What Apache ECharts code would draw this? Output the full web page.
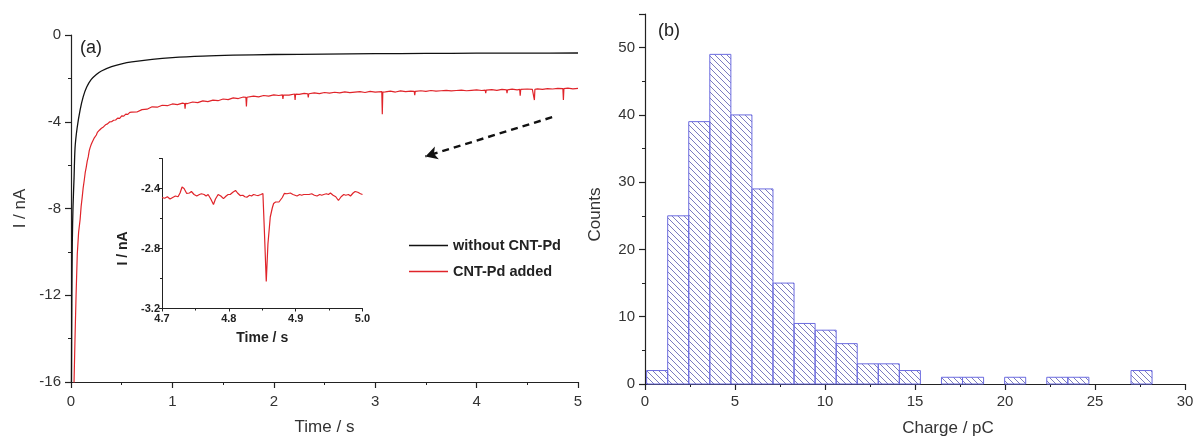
<!DOCTYPE html>
<html>
<head>
<meta charset="utf-8">
<script src="https://cdn.jsdelivr.net/npm/echarts@6/dist/echarts.min.js"></script>
<style>
  html, body { margin: 0; padding: 0; background: #fff; }
  #chart { width: 1197px; height: 436px; }
</style>
</head>
<body>
<div id="chart"></div>
<script>
// (a) chronoamperometry traces: [time (s), current (nA)]
var blackTrace = [
  [0.004,-16.6],[0.008,-12.4],[0.013,-9.5],[0.02,-7.9],[0.03,-6.6],[0.04,-5.2],[0.06,-4.3],
  [0.09,-3.45],[0.12,-2.85],[0.155,-2.4],[0.2,-2.05],[0.25,-1.82],[0.3,-1.66],[0.4,-1.46],
  [0.5,-1.33],[0.6,-1.24],[0.8,-1.12],[1.0,-1.04],[1.3,-0.97],[1.6,-0.93],[2.0,-0.9],
  [2.5,-0.88],[3.0,-0.86],[3.5,-0.85],[4.0,-0.84],[4.5,-0.84],[5.0,-0.83]
];

var redTrace = [
  [0.025,-17.2],[0.03,-16.0],[0.04,-13.9],[0.05,-12.0],[0.062,-10.1],[0.075,-9.1],[0.09,-8.5],
  [0.1,-7.9],[0.11,-7.5],[0.12,-7.05],[0.13,-6.72],[0.14,-6.35],[0.15,-6.1],[0.16,-5.82],
  [0.17,-5.62],[0.18,-5.33],[0.19,-5.17],[0.2,-5.04],[0.21,-4.93],[0.22,-4.84],[0.23,-4.74],
  [0.24,-4.65],[0.25,-4.61],[0.26,-4.49],[0.27,-4.5],[0.28,-4.39],[0.29,-4.37],[0.3,-4.3],
  [0.32,-4.24],[0.34,-4.14],[0.36,-4.1],[0.38,-4.01],[0.4,-4.0],[0.42,-3.93],[0.44,-3.92],
  [0.46,-3.83],[0.48,-3.84],[0.5,-3.73],[0.52,-3.74],[0.54,-3.65],[0.56,-3.66],[0.58,-3.57],
  [0.6,-3.56],[0.65,-3.55],[0.7,-3.44],[0.75,-3.42],[0.8,-3.31],[0.85,-3.33],[0.9,-3.24],
  [0.95,-3.26],[1.0,-3.18],[1.05,-3.21],[1.1,-3.14],[1.12,-3.16],[1.125,-3.4],[1.13,-3.15],
  [1.15,-3.16],[1.2,-3.09],[1.25,-3.12],[1.3,-3.04],[1.35,-3.07],[1.4,-3.0],[1.45,-3.03],
  [1.5,-2.95],[1.55,-2.98],[1.6,-2.9],[1.65,-2.93],[1.7,-2.86],[1.725,-2.88],[1.73,-3.3],
  [1.735,-2.87],[1.75,-2.89],[1.8,-2.82],[1.85,-2.85],[1.9,-2.79],[1.95,-2.82],[2.0,-2.76],
  [2.05,-2.79],[2.085,-2.76],[2.09,-2.95],[2.095,-2.77],[2.1,-2.74],[2.15,-2.77],[2.205,-2.72],
  [2.21,-3.0],[2.215,-2.73],[2.25,-2.74],[2.3,-2.69],[2.335,-2.71],[2.34,-2.88],[2.345,-2.71],
  [2.4,-2.67],[2.45,-2.7],[2.5,-2.65],[2.55,-2.68],[2.6,-2.64],[2.65,-2.67],[2.7,-2.62],
  [2.75,-2.66],[2.8,-2.63],[2.85,-2.61],[2.9,-2.65],[2.95,-2.6],[3.0,-2.63],[3.065,-2.61],
  [3.07,-3.65],[3.075,-2.63],[3.1,-2.62],[3.15,-2.59],[3.2,-2.63],[3.25,-2.58],[3.3,-2.61],
  [3.35,-2.59],[3.385,-2.6],[3.39,-2.78],[3.395,-2.6],[3.45,-2.57],[3.5,-2.6],[3.55,-2.56],
  [3.6,-2.59],[3.65,-2.57],[3.7,-2.55],[3.75,-2.58],[3.8,-2.56],[3.85,-2.54],[3.9,-2.57],
  [3.95,-2.55],[4.0,-2.53],[4.05,-2.56],[4.085,-2.54],[4.09,-2.68],[4.095,-2.54],[4.15,-2.52],
  [4.2,-2.55],[4.25,-2.51],[4.295,-2.53],[4.3,-2.68],[4.305,-2.53],[4.35,-2.5],[4.4,-2.53],
  [4.425,-2.51],[4.43,-2.8],[4.435,-2.51],[4.5,-2.49],[4.55,-2.51],[4.565,-2.5],[4.57,-3.0],
  [4.575,-2.5],[4.6,-2.48],[4.65,-2.51],[4.7,-2.47],[4.75,-2.49],[4.8,-2.46],[4.851,-2.47],
  [4.856,-3.0],[4.861,-2.47],[4.9,-2.45],[4.95,-2.48],[5.0,-2.46]
];

// zoomed view of the red trace around the 4.86 s event
var insetTrace = [
  [4.700,-2.46],[4.704,-2.465],[4.708,-2.455],[4.712,-2.47],[4.716,-2.46],[4.72,-2.45],
  [4.724,-2.455],[4.727,-2.43],[4.730,-2.39],[4.733,-2.40],[4.737,-2.433],[4.741,-2.43],
  [4.744,-2.42],[4.748,-2.44],[4.752,-2.45],[4.756,-2.44],[4.759,-2.435],[4.763,-2.44],
  [4.766,-2.45],[4.769,-2.44],[4.773,-2.47],[4.777,-2.507],[4.780,-2.47],[4.784,-2.44],
  [4.788,-2.45],[4.792,-2.468],[4.796,-2.45],[4.799,-2.44],[4.802,-2.44],[4.806,-2.425],
  [4.810,-2.413],[4.813,-2.43],[4.817,-2.447],[4.821,-2.445],[4.824,-2.455],[4.827,-2.458],
  [4.831,-2.445],[4.834,-2.45],[4.837,-2.44],[4.841,-2.445],[4.844,-2.447],[4.848,-2.44],
  [4.851,-2.433],[4.853,-2.66],[4.856,-3.02],[4.8585,-2.77],[4.862,-2.59],[4.865,-2.53],
  [4.867,-2.50],[4.870,-2.49],[4.872,-2.48],[4.875,-2.49],[4.877,-2.50],[4.880,-2.46],
  [4.883,-2.433],[4.887,-2.435],[4.892,-2.43],[4.896,-2.44],[4.899,-2.445],[4.902,-2.45],
  [4.906,-2.44],[4.909,-2.445],[4.912,-2.44],[4.916,-2.44],[4.920,-2.44],[4.924,-2.435],
  [4.928,-2.445],[4.932,-2.45],[4.936,-2.44],[4.939,-2.445],[4.942,-2.44],[4.946,-2.435],
  [4.949,-2.44],[4.952,-2.43],[4.956,-2.445],[4.960,-2.455],[4.964,-2.48],[4.968,-2.455],
  [4.972,-2.44],[4.975,-2.445],[4.979,-2.44],[4.982,-2.45],[4.986,-2.43],[4.989,-2.42],
  [4.993,-2.425],[4.997,-2.435],[5.000,-2.44]
];

// dashed pointer from the main trace toward the inset (data units)
var arrowFrom = [4.745, -3.79];
var arrowTo = [3.495, -5.6];

// (b) charge histogram: bin edges (pC) and counts per bin
var binEdges = [0.09,1.26,2.43,3.60,4.77,5.94,7.11,8.28,9.45,10.62,11.79,12.96,14.13,
  15.30,16.47,17.64,18.81,19.98,21.15,22.32,23.49,24.66,25.83,27.00,28.17];
var binCounts = [2,25,39,49,40,29,15,9,8,6,3,3,2,0,1,1,0,1,0,1,1,0,0,2];

var FONT = 'Liberation Sans, Arial, sans-serif';

var histData = [];
for (var i = 0; i < binCounts.length; i++) {
  if (binCounts[i] > 0) histData.push([binEdges[i], binEdges[i + 1], binCounts[i]]);
}

// diagonal hatch tile for the histogram bars
function makeHatch() {
  var s = 6, c = document.createElement('canvas');
  c.width = s; c.height = s;
  var g = c.getContext('2d');
  g.strokeStyle = '#6464b4';
  g.lineWidth = 0.85;
  g.beginPath();
  g.moveTo(-1, -1); g.lineTo(s + 1, s + 1);
  g.moveTo(-1, s - 1); g.lineTo(1, s + 1);
  g.moveTo(s - 1, -1); g.lineTo(s + 1, 1);
  g.stroke();
  return c;
}
var hatch = { image: makeHatch(), repeat: 'repeat' };

function axisBase(opts) {
  var a = {
    type: 'value',
    splitLine: { show: false },
    axisLine: { show: true, onZero: false, lineStyle: { color: '#222', width: 1.2 } },
    axisTick: { show: true, inside: false, length: 6, lineStyle: { color: '#222', width: 1.2 } },
    minorTick: { show: true, splitNumber: 2, length: 3, lineStyle: { color: '#222', width: 1 } },
    axisLabel: { color: '#333', fontSize: 15, fontFamily: FONT, margin: 10 },
    nameLocation: 'middle',
    nameTextStyle: { color: '#333', fontSize: 17, fontFamily: FONT }
  };
  for (var k in opts) a[k] = opts[k];
  return a;
}

var boldLabel = { color: '#222', fontSize: 11, fontWeight: 'bold', fontFamily: FONT, margin: 2 };
var boldName = { color: '#222', fontSize: 14, fontWeight: 'bold', fontFamily: FONT };

var chart = echarts.init(document.getElementById('chart'), null, { renderer: 'canvas' });
chart.setOption({
  backgroundColor: '#fff',
  animation: false,
  title: [
    { text: '(a)', left: 80, top: 39, padding: 0, textStyle: { fontSize: 18, fontWeight: 'normal', color: '#222', fontFamily: FONT } },
    { text: '(b)', left: 658, top: 22, padding: 0, textStyle: { fontSize: 18, fontWeight: 'normal', color: '#222', fontFamily: FONT } }
  ],
  legend: {
    data: ['without CNT-Pd', 'CNT-Pd added'],
    orient: 'vertical',
    left: 409, top: 238, padding: 0,
    itemWidth: 39, itemHeight: 14, itemGap: 11,
    icon: 'path://M0,6 L40,6 L40,7.4 L0,7.4 Z',
    textStyle: { color: '#222', fontSize: 14.5, fontWeight: 'bold', fontFamily: FONT },
    selectedMode: false
  },
  grid: [
    { left: 71, top: 35, width: 507, height: 347, outerBoundsMode: 'none', containLabel: false },
    { left: 162, top: 158.5, width: 200.5, height: 150, outerBoundsMode: 'none', containLabel: false },
    { left: 645, top: 14, width: 540, height: 370, outerBoundsMode: 'none', containLabel: false }
  ],
  xAxis: [
    axisBase({ gridIndex: 0, min: 0, max: 5, interval: 1, name: 'Time / s', nameGap: 37,
      axisLabel: { color: '#333', fontSize: 15, fontFamily: FONT, margin: 12 } }),
    axisBase({ gridIndex: 1, min: 4.7, max: 5.0, interval: 0.1, name: 'Time / s', nameGap: 23,
      axisTick: { show: true, length: 3, lineStyle: { color: '#222', width: 1 } },
      minorTick: { show: true, splitNumber: 2, length: 2, lineStyle: { color: '#222', width: 1 } },
      axisLine: { show: true, onZero: false, lineStyle: { color: '#222', width: 1 } },
      axisLabel: Object.assign({}, boldLabel, { margin: 5, formatter: function (v) { return v.toFixed(1); } }),
      nameTextStyle: boldName }),
    axisBase({ gridIndex: 2, min: 0, max: 30, interval: 5, name: 'Charge / pC', nameGap: 36,
      axisLabel: { color: '#333', fontSize: 15, fontFamily: FONT, margin: 10 },
      nameTextStyle: { color: '#333', fontSize: 17, fontFamily: FONT, padding: [0, 0, 0, 66] } })
  ],
  yAxis: [
    axisBase({ gridIndex: 0, min: -16, max: 0, interval: 4, name: 'I / nA', nameGap: 42 }),
    axisBase({ gridIndex: 1, min: -3.2, max: -2.2, interval: 0.4, name: 'I / nA', nameGap: 32,
      axisTick: { show: true, length: 3, lineStyle: { color: '#222', width: 1 } },
      minorTick: { show: true, splitNumber: 2, length: 2, lineStyle: { color: '#222', width: 1 } },
      axisLine: { show: true, onZero: false, lineStyle: { color: '#222', width: 1 } },
      axisLabel: Object.assign({}, boldLabel, { showMaxLabel: false, formatter: function (v) { return v.toFixed(1); } }),
      nameTextStyle: Object.assign({}, boldName, { padding: [0, 30, 0, 0] }) }),
    axisBase({ gridIndex: 2, min: 0, max: 55, interval: 10, name: 'Counts', nameGap: 41,
      axisLabel: { color: '#333', fontSize: 15, fontFamily: FONT, margin: 10, showMaxLabel: false },
      nameTextStyle: { color: '#333', fontSize: 17, fontFamily: FONT, padding: [0, 31, 0, 0] } })
  ],
  series: [
    {
      name: 'without CNT-Pd', type: 'line', xAxisIndex: 0, yAxisIndex: 0,
      data: blackTrace, showSymbol: false, symbol: 'none', smooth: 0.3, clip: true,
      lineStyle: { color: '#111', width: 1.3 }, itemStyle: { color: '#111' }
    },
    {
      name: 'CNT-Pd added', type: 'line', xAxisIndex: 0, yAxisIndex: 0,
      data: redTrace, showSymbol: false, symbol: 'none', clip: true,
      lineStyle: { color: '#e0242a', width: 1.2 }, itemStyle: { color: '#e0242a' },
      markLine: {
        silent: true, animation: false,
        symbol: ['none', 'arrow'], symbolSize: [10, 12],
        label: { show: false },
        lineStyle: { color: '#111', width: 2.4, type: [7, 5] },
        data: [[{ coord: arrowFrom }, { coord: arrowTo }]]
      }
    },
    {
      name: 'inset', type: 'line', xAxisIndex: 1, yAxisIndex: 1,
      data: insetTrace, showSymbol: false, symbol: 'none', clip: true,
      lineStyle: { color: '#e0242a', width: 1.2 }
    },
    {
      name: 'counts', type: 'custom', xAxisIndex: 2, yAxisIndex: 2,
      data: histData,
      encode: { x: [0, 1], y: 2 },
      renderItem: function (params, api) {
        var p0 = api.coord([api.value(0), api.value(2)]);
        var p1 = api.coord([api.value(1), 0]);
        return {
          type: 'rect',
          shape: { x: p0[0], y: p0[1], width: p1[0] - p0[0], height: p1[1] - p0[1] },
          style: { fill: hatch, stroke: '#6c6ce0', lineWidth: 1 }
        };
      }
    }
  ]
});
</script>
</body>
</html>
